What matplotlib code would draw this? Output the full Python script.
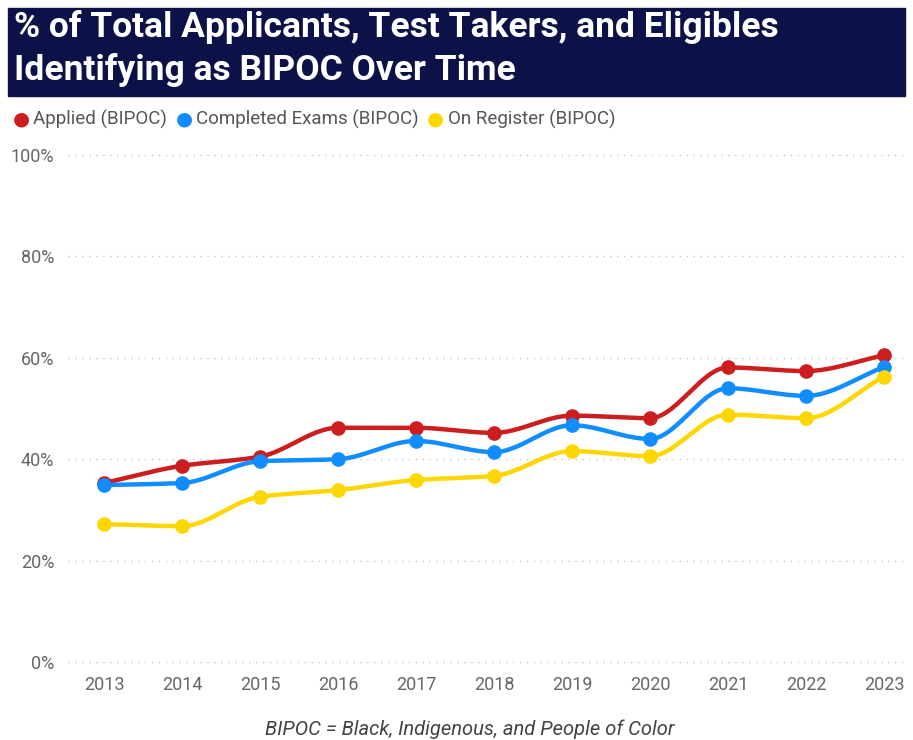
import numpy as np
import matplotlib
matplotlib.use('Agg')
import matplotlib.pyplot as plt
from matplotlib.ticker import FuncFormatter

years = [2013, 2014, 2015, 2016, 2017, 2018, 2019, 2020, 2021, 2022, 2023]
applied = [35.3, 38.7, 40.5, 46.2, 46.2, 45.2, 48.6, 48.1, 58.1, 57.4, 60.5]
completed = [34.9, 35.3, 39.6, 40.0, 43.6, 41.4, 46.7, 44.0, 54.0, 52.5, 58.2]
on_register = [27.2, 26.8, 32.6, 33.9, 35.9, 36.7, 41.6, 40.6, 48.8, 48.1, 56.3]
series_names = ['Applied (BIPOC)', 'Completed Exams (BIPOC)', 'On Register (BIPOC)']
y_ticks = [0, 20, 40, 60, 80, 100]

colors = ['#cc1d1f', '#118dff', '#ffd700']
TITLE_FONT = ['Roboto', 'DejaVu Sans']
FONT = ['Roboto', 'DejaVu Sans']


def smooth(x, y, n=30):
    # monotone cubic hermite (Fritsch-Carlson), only for drawing the curve
    x = np.asarray(x, float)
    y = np.asarray(y, float)
    h = np.diff(x)
    d = np.diff(y) / h
    m = np.zeros_like(y)
    m[0], m[-1] = d[0], d[-1]
    for i in range(1, len(y) - 1):
        if d[i - 1] * d[i] <= 0:
            m[i] = 0
        else:
            m[i] = 2 / (1 / d[i - 1] + 1 / d[i])
    xs, ys = [], []
    for i in range(len(x) - 1):
        t = np.linspace(0, 1, n)
        h00 = 2 * t**3 - 3 * t**2 + 1
        h10 = t**3 - 2 * t**2 + t
        h01 = -2 * t**3 + 3 * t**2
        h11 = t**3 - t**2
        xs.append(x[i] + t * h[i])
        ys.append(h00 * y[i] + h10 * h[i] * m[i] + h01 * y[i + 1] + h11 * h[i] * m[i + 1])
    return np.concatenate(xs), np.concatenate(ys)


fig = plt.figure(figsize=(9.13, 7.40), dpi=100)
W, H = 913, 740

# title banner
fig.patches.append(plt.Rectangle((8 / W, 1 - 96 / H), 897 / W, 88 / H,
                                 transform=fig.transFigure, color='#0c1148', zorder=0))
fig.text(14 / W, 1 - 27 / H, '% of Total Applicants, Test Takers, and Eligibles',
         color='white', fontsize=25.5, fontweight='bold', family=TITLE_FONT, va='center')
fig.text(14 / W, 1 - 70 / H, 'Identifying as BIPOC Over Time',
         color='white', fontsize=25.5, fontweight='bold', family=TITLE_FONT, va='center')

# legend
x = 21
fig.canvas.draw()
for name, c in zip(series_names, colors):
    fig.text(x / W, 1 - 119 / H, '\u25cf', color=c, fontsize=14, va='center', ha='center',
             family=['DejaVu Sans'])
    t = fig.text((x + 12) / W, 1 - 119 / H, name, color='#555555', fontsize=13.5,
                 va='center', family=FONT)
    bb = t.get_window_extent(renderer=fig.canvas.get_renderer())
    x = bb.x1 + 17

ax = fig.add_axes([68 / W, 1 - 665 / H, 837 / W, 517 / H])
ax.set_xlim(2012.54, 2023.27)
ax.set_ylim(-0.6, 101.4)

for vals, c in zip([applied, completed, on_register], colors):
    sx, sy = smooth(years, vals)
    ax.plot(sx, sy, color=c, lw=3.2, solid_capstyle='round', zorder=3)
    ax.plot(years, vals, 'o', color=c, ms=9.5, zorder=4)

ax.set_yticks(y_ticks)
ax.yaxis.set_major_formatter(FuncFormatter(lambda v, p: f'{int(v)}%'))
ax.set_xticks(years)
ax.grid(axis='y', color='#c8c8c8', linestyle=(0, (1, 4)), lw=1)
ax.set_axisbelow(True)
for s in ax.spines.values():
    s.set_visible(False)
ax.tick_params(length=0, labelsize=13, colors='#666666', pad=8)
ax.tick_params(axis='y', pad=10)
for lbl in ax.get_xticklabels() + ax.get_yticklabels():
    lbl.set_family(FONT)

fig.text(470 / W, 1 - 729 / H, 'BIPOC = Black, Indigenous, and People of Color',
         color='#444444', fontsize=14.5, style='italic', ha='center', va='center', family=FONT)

fig.savefig('out.png', dpi=100)
